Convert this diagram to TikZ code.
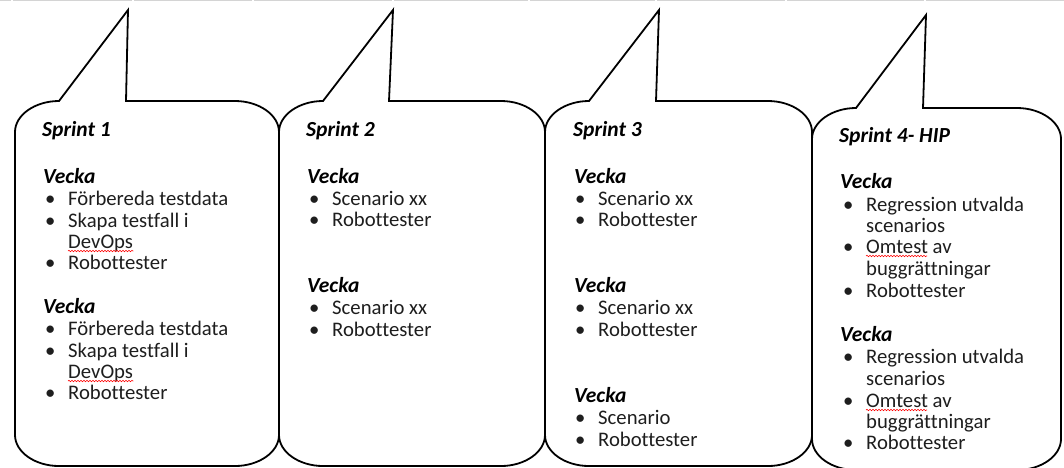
\documentclass[tikz,border=0pt]{standalone}
\usepackage{fontspec}
\setmainfont{Carlito}[Ligatures=NoCommon]
\usetikzlibrary{decorations.pathmorphing}
\definecolor{bodyc}{HTML}{1E1E1E}
\definecolor{topline}{HTML}{D4D4D4}
\tikzset{
  bubble/.style={draw=black, line width=1.8pt, line join=miter, fill=white},
  ttl/.style={inner sep=0pt, anchor=base west, font=\fontsize{21.5}{24}\selectfont\bfseries\itshape, text=black},
  bodytxt/.style={inner sep=0pt, anchor=base west, font=\fontsize{20.7}{24}\selectfont, text=bodyc},
  spell/.style={draw=red, line width=0.6pt, decorate, decoration={snake, amplitude=0.7pt, segment length=3pt}},
  tline/.style={draw=topline, line width=1.2pt}
}
\newcommand\itm[4]{\node[bodytxt] (#1) at (#2-23,#3) {\makebox[23pt][l]{\textbullet}#4};}
\newcommand\cnt[4]{\node[bodytxt] (#1) at (#2,#3) {#4};}
\begin{document}
\begin{tikzpicture}[x=1pt,y=-1pt]
\useasboundingbox (0,0) rectangle (1064,467);
\clip (0,0) rectangle (1064,467);
% faint top border segments
\foreach \a/\b in {0/11,13/132,134/252,254/392,394/528,530/655,657/785,787/924,926/1064}{
  \draw[tline] (\a,0.6) -- (\b,0.6);
}
% bubbles
\draw[bubble] (59,101) -- (128,10) -- (126,101) -- (235,101)
  .. controls (259,101) and (279,115) .. (279,132) -- (279,435)
  .. controls (279,452) and (259,466) .. (235,466) -- (59,466)
  .. controls (35,466) and (15,452) .. (15,435) -- (15,132)
  .. controls (15,115) and (35,101) .. (59,101) -- cycle;
\draw[bubble] (323,101) -- (393,10) -- (389,101) -- (501,101)
  .. controls (525,101) and (545,115) .. (545,132) -- (545,435)
  .. controls (545,452) and (525,466) .. (501,466) -- (323,466)
  .. controls (299,466) and (279,452) .. (279,435) -- (279,132)
  .. controls (279,115) and (299,101) .. (323,101) -- cycle;
\draw[bubble] (589,101) -- (659,10) -- (656,101) -- (768,101)
  .. controls (792,101) and (812,115) .. (812,132) -- (812,435)
  .. controls (812,452) and (792,466) .. (768,466) -- (589,466)
  .. controls (565,466) and (545,452) .. (545,435) -- (545,132)
  .. controls (545,115) and (565,101) .. (589,101) -- cycle;
\draw[bubble] (856,108) -- (926,15) -- (923,108) -- (1017,108)
  .. controls (1041,108) and (1061,122) .. (1061,139) -- (1061,439)
  .. controls (1061,456) and (1041,470) .. (1017,470) -- (856,470)
  .. controls (832,470) and (812,456) .. (812,439) -- (812,139)
  .. controls (812,122) and (832,108) .. (856,108) -- cycle;
% bubble 1
\node[ttl] (s1) at (42,136) {Sprint 1};
\node[ttl] (s1v1) at (43,183) {Vecka};
\itm{s1a}{68}{205}{Förbereda testdata}
\itm{s1b}{68}{227}{Skapa testfall i}
\cnt{s1c}{68}{248}{DevOps}
\itm{s1d}{68}{269}{Robottester}
\node[ttl] (s1v2) at (43,313) {Vecka};
\itm{s1e}{68}{335}{Förbereda testdata}
\itm{s1f}{68}{357}{Skapa testfall i}
\cnt{s1g}{68}{378}{DevOps}
\itm{s1h}{68}{399}{Robottester}
\draw[spell] ([yshift=-3pt]s1c.base west) -- ([yshift=-3pt]s1c.base east);
\draw[spell] ([yshift=-3pt]s1g.base west) -- ([yshift=-3pt]s1g.base east);
% bubble 2
\node[ttl] (s2) at (306,136) {Sprint 2};
\node[ttl] (s2v1) at (307,183) {Vecka};
\itm{s2a}{332}{205}{Scenario xx}
\itm{s2b}{332}{226}{Robottester}
\node[ttl] (s2v2) at (307,292) {Vecka};
\itm{s2c}{332}{314}{Scenario xx}
\itm{s2d}{332}{336}{Robottester}
% bubble 3
\node[ttl] (s3) at (573,136) {Sprint 3};
\node[ttl] (s3v1) at (574,183) {Vecka};
\itm{s3a}{598}{205}{Scenario xx}
\itm{s3b}{598}{226}{Robottester}
\node[ttl] (s3v2) at (574,292) {Vecka};
\itm{s3c}{598}{314}{Scenario xx}
\itm{s3d}{598}{336}{Robottester}
\node[ttl] (s3v3) at (574,402) {Vecka};
\itm{s3e}{598}{424}{Scenario}
\itm{s3f}{598}{446}{Robottester}
% bubble 4
\node[ttl] (s4) at (839,142) {Sprint 4- HIP};
\node[ttl] (s4v1) at (840,188) {Vecka};
\itm{s4a}{866}{211}{Regression utvalda}
\cnt{s4b}{866}{232}{scenarios}
\itm{s4c}{866}{253}{Omtest av}
\cnt{s4d}{866}{275}{buggrättningar}
\itm{s4e}{866}{297}{Robottester}
\node[ttl] (s4v2) at (840,341) {Vecka};
\itm{s4f}{866}{363}{Regression utvalda}
\cnt{s4g}{866}{385}{scenarios}
\itm{s4h}{866}{407}{Omtest av}
\cnt{s4i}{866}{428}{buggrättningar}
\itm{s4j}{866}{449}{Robottester}
\path (s4c.base west) ++(23,0) coordinate (om1a);
\path (s4h.base west) ++(23,0) coordinate (om2a);
\draw[spell] ([yshift=-3pt]om1a) -- ++(61,0);
\draw[spell] ([yshift=-3pt]om2a) -- ++(61,0);
\end{tikzpicture}
\end{document}
